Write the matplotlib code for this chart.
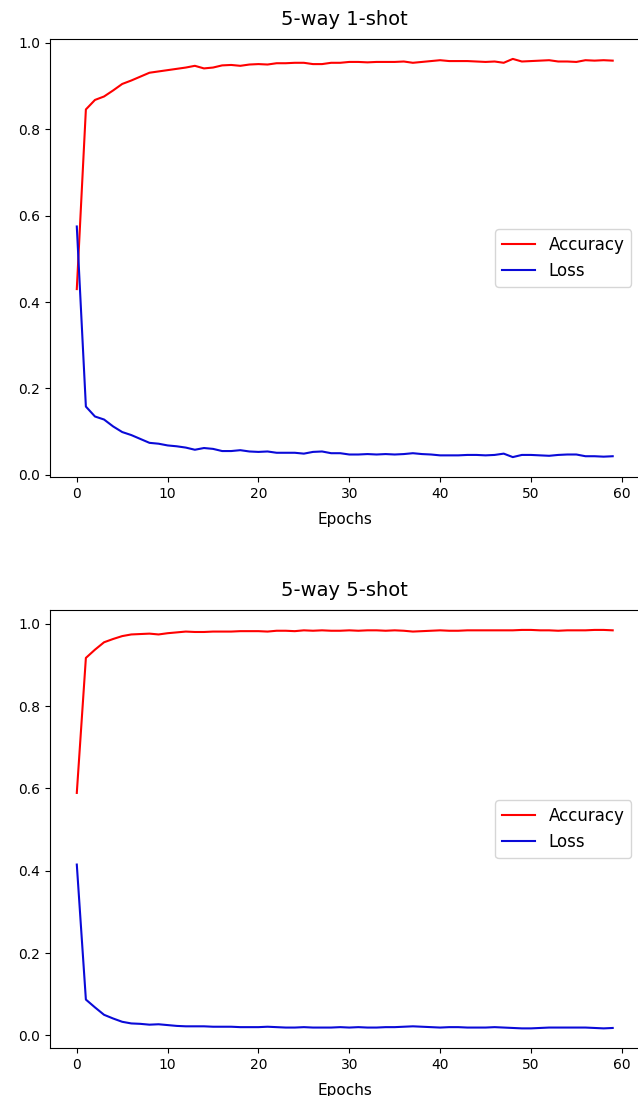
import matplotlib
matplotlib.use("Agg")
import matplotlib.pyplot as plt
import numpy as np

epochs = list(range(60))

acc_1shot = [0.430, 0.846, 0.868, 0.876, 0.890, 0.905, 0.913, 0.922, 0.931, 0.934,
             0.937, 0.940, 0.943, 0.947, 0.941, 0.943, 0.948, 0.949, 0.947, 0.950,
             0.951, 0.950, 0.953, 0.953, 0.954, 0.954, 0.951, 0.951, 0.954, 0.954,
             0.956, 0.956, 0.955, 0.956, 0.956, 0.956, 0.957, 0.954, 0.956, 0.958,
             0.960, 0.958, 0.958, 0.958, 0.957, 0.956, 0.957, 0.954, 0.963, 0.957,
             0.958, 0.959, 0.960, 0.957, 0.957, 0.956, 0.960, 0.959, 0.960, 0.959]

loss_1shot = [0.575, 0.158, 0.135, 0.128, 0.112, 0.099, 0.092, 0.083, 0.074, 0.072,
              0.068, 0.066, 0.063, 0.058, 0.062, 0.060, 0.055, 0.055, 0.057, 0.054,
              0.053, 0.054, 0.051, 0.051, 0.051, 0.049, 0.053, 0.054, 0.050, 0.050,
              0.047, 0.047, 0.048, 0.047, 0.048, 0.047, 0.048, 0.050, 0.048, 0.047,
              0.045, 0.045, 0.045, 0.046, 0.046, 0.045, 0.046, 0.049, 0.041, 0.046,
              0.046, 0.045, 0.044, 0.046, 0.047, 0.047, 0.043, 0.043, 0.042, 0.043]

acc_5shot = [0.589, 0.917, 0.937, 0.955, 0.963, 0.970, 0.974, 0.975, 0.976, 0.974,
             0.977, 0.979, 0.981, 0.980, 0.980, 0.981, 0.981, 0.981, 0.982, 0.982,
             0.982, 0.981, 0.983, 0.983, 0.982, 0.984, 0.983, 0.984, 0.983, 0.983,
             0.984, 0.983, 0.984, 0.984, 0.983, 0.984, 0.983, 0.981, 0.982, 0.983,
             0.984, 0.983, 0.983, 0.984, 0.984, 0.984, 0.984, 0.984, 0.984, 0.985,
             0.985, 0.984, 0.984, 0.983, 0.984, 0.984, 0.984, 0.985, 0.985, 0.984]

loss_5shot = [0.415, 0.087, 0.068, 0.050, 0.041, 0.033, 0.029, 0.028, 0.026, 0.027,
              0.025, 0.023, 0.022, 0.022, 0.022, 0.021, 0.021, 0.021, 0.020, 0.020,
              0.020, 0.021, 0.020, 0.019, 0.019, 0.020, 0.019, 0.019, 0.019, 0.020,
              0.019, 0.020, 0.019, 0.019, 0.020, 0.020, 0.021, 0.022, 0.021, 0.020,
              0.019, 0.020, 0.020, 0.019, 0.019, 0.019, 0.020, 0.019, 0.018, 0.017,
              0.017, 0.018, 0.019, 0.019, 0.019, 0.019, 0.019, 0.018, 0.017, 0.018]

titles = ["5-way 1-shot", "5-way 5-shot"]
series = [(acc_1shot, loss_1shot), (acc_5shot, loss_5shot)]

W, H = 638, 1096
fig = plt.figure(figsize=(W / 100, H / 100), dpi=100)

# axes boxes in pixels: left, top, right, bottom
boxes = [(50, 39, 639.5, 477), (50, 610, 639.5, 1048.3)]

for (l, t, r, b), title, (acc, loss) in zip(boxes, titles, series):
    ax = fig.add_axes([l / W, 1 - b / H, (r - l) / W, (b - t) / H])
    ax.plot(epochs, acc, color="red", label="Accuracy")
    ax.plot(epochs, loss, color="#0a0ad8", label="Loss")
    ax.set_title(title, fontsize=14, pad=10)
    ax.set_xlabel("Epochs", fontsize=11, labelpad=8)
    ax.set_xticks([0, 10, 20, 30, 40, 50, 60])
    ax.set_yticks([0.0, 0.2, 0.4, 0.6, 0.8, 1.0])
    ax.legend(loc="center right", fontsize=12)

fig.savefig("out.png", dpi=100)
